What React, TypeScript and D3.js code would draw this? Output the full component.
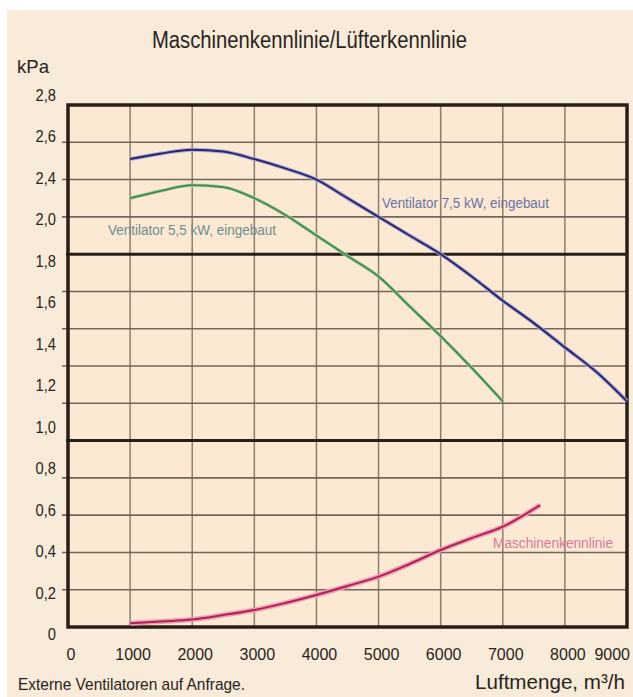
//fan curve / machine curve chart, drawn with d3 into a single svg
import * as d3 from 'd3';
import React, { useEffect, useRef } from 'react';

//x axis ticks (m³/h)
const airflowTicks = [0, 1000, 2000, 3000, 4000, 5000, 6000, 7000, 8000, 9000];

//y tick labels as printed on the original (2,2 is missing there)
const pressureLabels = ['2,8', '2,6', '2,4', '2,0', '1,8', '1,6', '1,4', '1,2', '1,0', '0,8', '0,6', '0,4', '0,2', '0'];

//horizontal grid values (kPa) and the heavy ones
const gridValues = [0, 0.2, 0.4, 0.6, 0.8, 1.0, 1.2, 1.4, 1.6, 1.8, 2.0, 2.2, 2.4, 2.6, 2.8];
const heavyValues = [1.0, 2.0];

//fan 7,5 kW
const airflow75 = [1000, 1500, 2000, 2500, 3000, 3500, 4000, 4500, 5000, 5500, 6000, 6500, 7000, 7500, 8000, 8500, 9000];
const pressure75 = [2.51, 2.54, 2.56, 2.55, 2.51, 2.46, 2.4, 2.3, 2.2, 2.1, 2.0, 1.88, 1.75, 1.63, 1.5, 1.37, 1.21];

//fan 5,5 kW
const airflow55 = [1000, 1500, 2000, 2500, 3000, 3500, 4000, 4500, 5000, 5500, 6000, 6500, 7000];
const pressure55 = [2.3, 2.34, 2.37, 2.36, 2.3, 2.21, 2.1, 1.99, 1.88, 1.72, 1.56, 1.39, 1.21];

//machine curve
const airflowMachine = [1000, 1500, 2000, 2500, 3000, 3500, 4000, 4500, 5000, 5500, 6000, 6500, 7000, 7600];
const pressureMachine = [0.02, 0.03, 0.04, 0.064, 0.091, 0.129, 0.172, 0.22, 0.27, 0.338, 0.413, 0.477, 0.538, 0.654];

const font = "'Liberation Sans', Arial, sans-serif";

//rough printed width of a condensed tick label
const tickWidth = (s: string) => s.split('').reduce((w, c) => w + (c === ',' ? 4 : 8.2), 0);

const App = () => {
  const svgRef = useRef<SVGSVGElement>(null);

  useEffect(() => {
    const svg = d3.select(svgRef.current);
    svg.selectAll('*').remove();

    //plot area bounds
    const left = 68;
    const right = 627;
    const top = 105;
    const bottom = 627;

    const x = d3.scaleLinear().domain([0, 9000]).range([left, right]);
    const y = d3.scaleLinear().domain([0, 2.8]).range([bottom, top]);

    //the printed labels don't sit on the grid, they run on their own spacing
    const labelY = d3.scalePoint().domain(pressureLabels).range([95, 634]);

    //page background
    svg.append('rect').attr('width', 633).attr('height', 697).attr('fill', '#ffffff');
    svg
      .append('rect')
      .attr('x', 7)
      .attr('y', 10)
      .attr('width', 626)
      .attr('height', 687)
      .attr('fill', '#f8ebd9');
    svg
      .append('rect')
      .attr('x', left)
      .attr('y', top)
      .attr('width', right - left)
      .attr('height', bottom - top)
      .attr('fill', '#fbe9d3');

    //vertical grid
    svg
      .append('g')
      .selectAll('line')
      .data(airflowTicks.slice(1, -1))
      .enter()
      .append('line')
      .attr('x1', (d) => x(d))
      .attr('x2', (d) => x(d))
      .attr('y1', top)
      .attr('y2', bottom)
      .attr('stroke', '#8c7e6e')
      .attr('stroke-width', 1.5);

    //horizontal grid with small stubs left of the axis
    svg
      .append('g')
      .selectAll('line')
      .data(gridValues.filter((v) => v > 0 && v < 2.8 && !heavyValues.includes(v)))
      .enter()
      .append('line')
      .attr('x1', left - 6)
      .attr('x2', right)
      .attr('y1', (d) => y(d))
      .attr('y2', (d) => y(d))
      .attr('stroke', '#73665a')
      .attr('stroke-width', 1.6);

    //heavy lines at 1,0 and 2,0
    svg
      .append('g')
      .selectAll('line')
      .data(heavyValues)
      .enter()
      .append('line')
      .attr('x1', left - 2)
      .attr('x2', right)
      .attr('y1', (d) => y(d))
      .attr('y2', (d) => y(d))
      .attr('stroke', '#2a1f17')
      .attr('stroke-width', 3);

    //frame
    svg
      .append('rect')
      .attr('x', left)
      .attr('y', top)
      .attr('width', right - left)
      .attr('height', bottom - top)
      .attr('fill', 'none')
      .attr('stroke', '#2a1f17')
      .attr('stroke-width', 3.5);

    //drawing a curve with a soft halo under a darker core
    const drawCurve = (xs: number[], ys: number[], halo: string, core: string, haloWidth: number, coreWidth: number) => {
      const pts = xs.map((v, i) => [v, ys[i]] as [number, number]);
      const line = d3
        .line<[number, number]>()
        .x((d) => x(d[0]))
        .y((d) => y(d[1]))
        .curve(d3.curveMonotoneX);
      svg
        .append('path')
        .attr('d', line(pts))
        .attr('fill', 'none')
        .attr('stroke', halo)
        .attr('stroke-width', haloWidth)
        .attr('stroke-linejoin', 'round');
      svg
        .append('path')
        .attr('d', line(pts))
        .attr('fill', 'none')
        .attr('stroke', core)
        .attr('stroke-width', coreWidth)
        .attr('stroke-linejoin', 'round');
    };

    drawCurve(airflow55, pressure55, '#a9cfa6', '#43874b', 3.5, 1.8);
    drawCurve(airflow75, pressure75, '#aaa8dd', '#2b2862', 4, 2);
    drawCurve(airflowMachine, pressureMachine, '#f29ab5', '#a82650', 5, 2);

    //curve labels
    const curveLabel = (txt: string, lx: number, ly: number, len: number, color: string) => {
      svg
        .append('text')
        .attr('x', lx)
        .attr('y', ly)
        .attr('font-family', font)
        .attr('font-size', 14)
        .attr('fill', color)
        .attr('textLength', len)
        .attr('lengthAdjust', 'spacingAndGlyphs')
        .text(txt);
    };
    curveLabel('Ventilator 7,5 kW, eingebaut', 382, 208, 167, '#6d72a6');
    curveLabel('Ventilator 5,5 kW, eingebaut', 108, 235, 168, '#6e8f8c');
    curveLabel('Maschinenkennlinie', 493, 548, 120, '#d9789a');

    //y tick labels
    svg
      .append('g')
      .selectAll('text')
      .data(pressureLabels)
      .enter()
      .append('text')
      .attr('x', 56)
      .attr('y', (d) => (labelY(d) as number) + 6)
      .attr('text-anchor', 'end')
      .attr('font-family', font)
      .attr('font-size', 17)
      .attr('fill', '#2a2420')
      .attr('textLength', (d) => tickWidth(d))
      .attr('lengthAdjust', 'spacingAndGlyphs')
      .text((d) => d);

    //x tick labels
    svg
      .append('g')
      .selectAll('text')
      .data(airflowTicks)
      .enter()
      .append('text')
      .attr('x', (d, i) => (i === airflowTicks.length - 1 ? 630 : x(d) + 3))
      .attr('y', 660)
      .attr('text-anchor', (d, i) => (i === airflowTicks.length - 1 ? 'end' : 'middle'))
      .attr('font-family', font)
      .attr('font-size', 16)
      .attr('fill', '#2a2420')
      .text((d) => String(d));

    //title and axis captions
    const caption = (txt: string, lx: number, ly: number, size: number, len: number) => {
      svg
        .append('text')
        .attr('x', lx)
        .attr('y', ly)
        .attr('font-family', font)
        .attr('font-size', size)
        .attr('fill', '#2a2420')
        .attr('textLength', len)
        .attr('lengthAdjust', 'spacingAndGlyphs')
        .text(txt);
    };
    caption('Maschinenkennlinie/Lüfterkennlinie', 152, 48, 23, 315);
    caption('kPa', 17, 73, 19, 32);
    caption('Externe Ventilatoren auf Anfrage.', 18, 690, 17, 227);
    caption('Luftmenge, m³/h', 475, 689, 21, 150);
  }, []);

  return (
    <svg
      ref={svgRef}
      width={633}
      height={697}
      style={{ position: 'absolute', left: 0, top: 0, display: 'block' }}
    ></svg>
  );
};

export default App;
